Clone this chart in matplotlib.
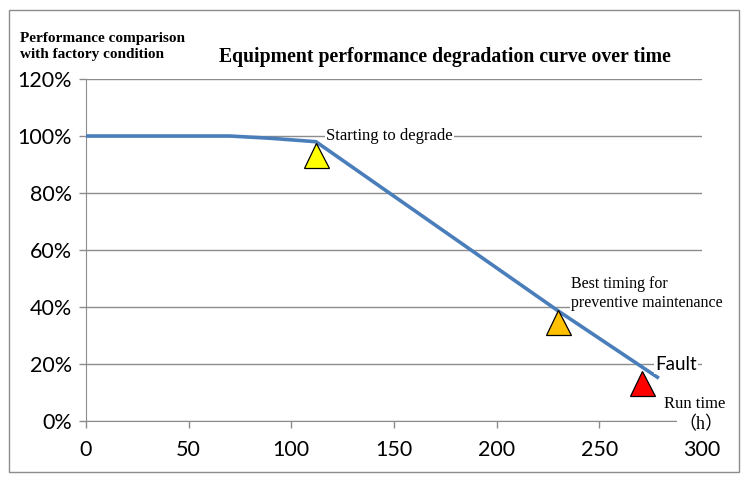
import matplotlib
matplotlib.use('Agg')
import matplotlib.pyplot as plt
from matplotlib.patches import Rectangle

# performance curve (percent of factory condition) against run time (h)
run_time = [0, 70, 90, 112, 230, 279]
performance = [100, 100, 99.2, 98, 38.6, 15]

# triangle markers: degrade start, best maintenance timing, fault
marker_x = [112, 230, 271]
marker_y = [93.2, 34.7, 13.5]
marker_colors = ['#FFFF00', '#FFC000', '#FF0000']

x_ticks = [0, 50, 100, 150, 200, 250, 300]
y_ticks = [0, 20, 40, 60, 80, 100, 120]

grid_col = '#8C8C8C'

fig = plt.figure(figsize=(7.48, 4.83), dpi=100)
ax = fig.add_axes([0.115, 0.1284, 0.8235, 0.708])

ax.plot(run_time, performance, color='#4A7EBB', lw=2.6, zorder=3, solid_capstyle='butt')
for x, y, c in zip(marker_x, marker_y, marker_colors):
    ax.plot(x, y, marker='^', ms=18, color=c, mec='black', mew=0.9, zorder=4)

ax.set_xlim(0, 300)
ax.set_ylim(0, 120)
ax.set_xticks(x_ticks)
ax.set_yticks(y_ticks)
ax.set_yticklabels(['%d%%' % v for v in y_ticks])
ax.yaxis.grid(True, color=grid_col, lw=1)
ax.set_axisbelow(True)
for s in ['top', 'right']:
    ax.spines[s].set_visible(False)
for s in ['left', 'bottom']:
    ax.spines[s].set_color(grid_col)
ax.tick_params(axis='both', colors=grid_col, length=5, width=1, labelcolor='black',
               labelsize=15.5)
ax.tick_params(axis='x', pad=9)
ax.tick_params(axis='y', pad=5)
for lab in ax.get_xticklabels() + ax.get_yticklabels():
    lab.set_family('Lato')

box = dict(facecolor='white', edgecolor='none', pad=1)
serif = 'Liberation Serif'
ax.text(116.9, 100, 'Starting to degrade', family=serif, fontsize=12,
        ha='left', va='center', bbox=box, zorder=5)
ax.text(236.2, 44.6, 'Best timing for\npreventive maintenance', family=serif,
        fontsize=11.5, ha='left', va='center', linespacing=1.25, bbox=box,
        zorder=5, clip_on=False)
ax.text(277.2, 19.8, 'Fault', family='Lato', fontsize=13.5,
        ha='left', va='center', bbox=box, zorder=5, clip_on=False)
ax.text(281.5, 6, 'Run time', family=serif, fontsize=12,
        ha='left', va='center', zorder=5, clip_on=False)
ax.text(299.5, -1.2, '（h）', family=[serif, 'Noto Sans CJK SC'], fontsize=13,
        ha='center', va='center', bbox=box, zorder=5, clip_on=False)

fig.text(0.0267, 0.9027, 'Performance comparison\nwith factory condition',
         family=serif, fontweight='bold', fontsize=11, ha='left', va='center',
         linespacing=1.3)
fig.text(0.595, 0.882, 'Equipment performance degradation curve over time',
         family=serif, fontweight='bold', fontsize=14.2, ha='center', va='center')

fig.patches.append(Rectangle((9 / 748, 1 - 472 / 483), 730 / 748, 462 / 483,
                             transform=fig.transFigure, fill=False,
                             edgecolor=grid_col, lw=1))

fig.savefig('out.png', dpi=100)
